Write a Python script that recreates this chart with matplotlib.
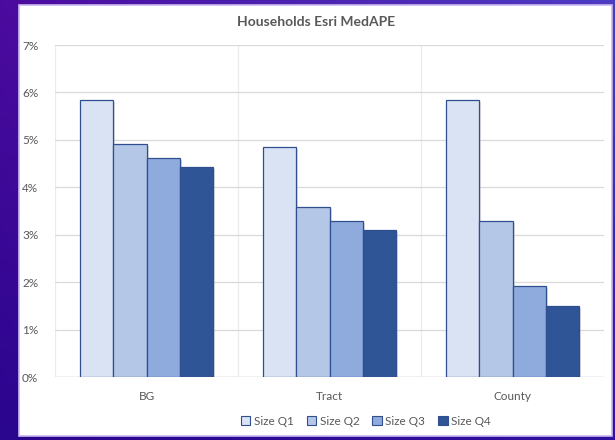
import matplotlib.pyplot as plt
import matplotlib.patches as mpatches
import numpy as np

plt.rcParams['font.family'] = ['Lato', 'DejaVu Sans']

# Datos
categorias = ['BG', 'Tract', 'County']
series = ['Size Q1', 'Size Q2', 'Size Q3', 'Size Q4']
q1 = [5.83, 4.85, 5.83]
q2 = [4.92, 3.59, 3.28]
q3 = [4.62, 3.28, 1.92]
q4 = [4.43, 3.09, 1.50]
valores = [q1, q2, q3, q4]
col = ['#DAE3F3', '#B4C7E7', '#8FAADC', '#2F5597']
gris = '#595959'

fig = plt.figure(figsize=(6.15, 4.4), dpi=100)

# Fondo degradado morado
fondo = fig.add_axes([0, 0, 1, 1])
gx = np.linspace(0, 1, 200)
gy = np.linspace(0, 1, 200)
X, Y = np.meshgrid(gx, gy)
c_bl = np.array([0x2a, 0x05, 0x8e]) / 255
c_tl = np.array([0x4c, 0x0b, 0x9e]) / 255
c_tr = np.array([0x4e, 0x3c, 0xc2]) / 255
c_br = np.array([0x30, 0x12, 0xa0]) / 255
img = (c_tl[None, None, :] * ((1 - X) * (1 - Y))[..., None] + c_tr[None, None, :] * (X * (1 - Y))[..., None]
       + c_bl[None, None, :] * ((1 - X) * Y)[..., None] + c_br[None, None, :] * (X * Y)[..., None])
fondo.imshow(img, aspect='auto', extent=[0, 1, 0, 1])
fondo.add_patch(mpatches.Rectangle((19 / 615, 1 - 436 / 440), (612 - 19) / 615, (436 - 5) / 440,
                                   facecolor='white', edgecolor='#C9B8F0', lw=1.2, transform=fondo.transAxes))
fondo.set_xlim(0, 1)
fondo.set_ylim(0, 1)
fondo.axis('off')

ax = fig.add_axes([55 / 615, 1 - 377 / 440, (604 - 55) / 615, (377 - 45) / 440])
ax.set_facecolor('none')

x = np.arange(len(categorias))
ancho = 0.182
for i, serie in enumerate(series):
    pos = x + (i - 1.5) * ancho
    # sombra ligera
    ax.bar(pos + 0.012, valores[i], ancho, bottom=-0.04, color='#BFBFBF', alpha=0.5, zorder=2, lw=0)
    ax.bar(pos, valores[i], ancho, color=col[i], edgecolor='#2F4F8F', lw=0.9, zorder=3, label=serie)

ax.set_xlim(-0.5, 2.5)
ax.set_ylim(0, 7)
ax.set_yticks(range(0, 8))
ax.set_yticklabels(['%d%%' % v for v in range(0, 8)])
ax.set_xticks(x)
ax.set_xticklabels(categorias)
ax.set_xticks(np.arange(-0.5, 2.6, 0.5), minor=True)
ax.grid(axis='y', color='#D9D9D9', lw=0.9, zorder=0)
ax.grid(axis='x', which='minor', color='#EBEBEB', lw=0.9, zorder=0)
ax.axhline(0, color='#CFCFCF', lw=1.0, zorder=1)
ax.tick_params(which='both', length=0, colors=gris, labelsize=8.5)
ax.tick_params(axis='y', pad=12)
ax.tick_params(axis='x', pad=10)
for s in ax.spines.values():
    s.set_visible(False)

fig.text(316 / 615, 1 - 22 / 440, 'Households Esri MedAPE', ha='center', va='center',
         fontsize=10, fontweight='bold', color=gris)

handles = [mpatches.Patch(facecolor=col[i], edgecolor='#2F4F8F', lw=0.8, label=s) for i, s in enumerate(series)]
fig.legend(handles=handles, loc='center', bbox_to_anchor=(366 / 615, 1 - 421 / 440), ncol=4, frameon=False,
           fontsize=8.5, handlelength=0.8, handleheight=0.8, handletextpad=0.3, columnspacing=1.1,
           labelcolor=gris)

plt.savefig('out.png', dpi=100)
